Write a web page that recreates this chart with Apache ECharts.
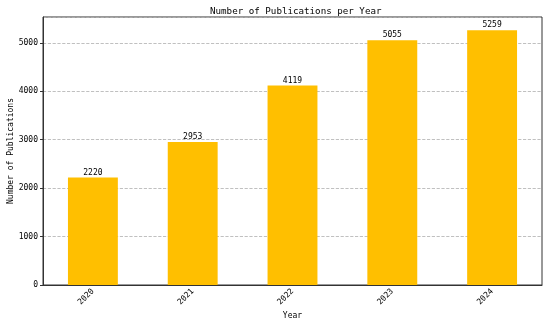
<!DOCTYPE html>
<html><head><meta charset="utf-8">
<script src="https://cdn.jsdelivr.net/npm/echarts@6/dist/echarts.min.js"></script>
<style>html,body{margin:0;padding:0;background:#fff}#c{width:550px;height:322px}</style>
</head><body><div id="c"></div>
<script>
const years = ['2020','2021','2022','2023','2024'];
const publications = [2220, 2953, 4119, 5055, 5259];
const yTicks = [0, 1000, 2000, 3000, 4000, 5000];
const F = 'DejaVu Sans Mono';
const chart = echarts.init(document.getElementById('c'));
chart.setOption({
  animation: false,
  title: { text: 'Number of Publications per Year', left: 205, top: 2,
    textStyle: { fontFamily: F, fontSize: 9.2, fontWeight: 'normal', color: '#000' } },
  grid: { left: 43, right: 8, top: 17, bottom: 37, outerBoundsMode: 'none', containLabel: false,
    show: true, borderColor: '#333', borderWidth: 1, backgroundColor: 'transparent' },
  xAxis: { type: 'category', data: years, name: 'Year', nameLocation: 'middle', nameGap: 27,
    nameMoveOverlap: false,
    nameTextStyle: { fontFamily: F, fontSize: 8, color: '#000' },
    axisLine: { lineStyle: { color: '#333' } },
    axisTick: { alignWithLabel: true, length: 3, lineStyle: { color: '#333' } },
    axisLabel: { rotate: 45, fontFamily: F, fontSize: 8, color: '#000', margin: 5 } },
  yAxis: { type: 'value', min: 0, max: 5535, interval: 1000, name: 'Number of Publications',
    nameLocation: 'middle', nameGap: 28, nameMoveOverlap: false,
    nameTextStyle: { fontFamily: F, fontSize: 8, color: '#000' },
    axisLine: { show: true, lineStyle: { color: '#333' } },
    axisTick: { show: true, length: 3, lineStyle: { color: '#333' } },
    axisLabel: { fontFamily: F, fontSize: 8, color: '#000', margin: 5, showMaxLabel: false,
      formatter: v => yTicks.includes(v) ? String(v) : '' },
    splitLine: { show: true, lineStyle: { color: '#b0b0b0', type: 'dashed', width: 0.8 } } },
  series: [{ type: 'bar', data: publications, barWidth: '50%',
    itemStyle: { color: '#FFBF00' },
    label: { show: true, position: 'top', distance: 1, fontFamily: F, fontSize: 8, color: '#000' } }]
});
</script></body></html>
